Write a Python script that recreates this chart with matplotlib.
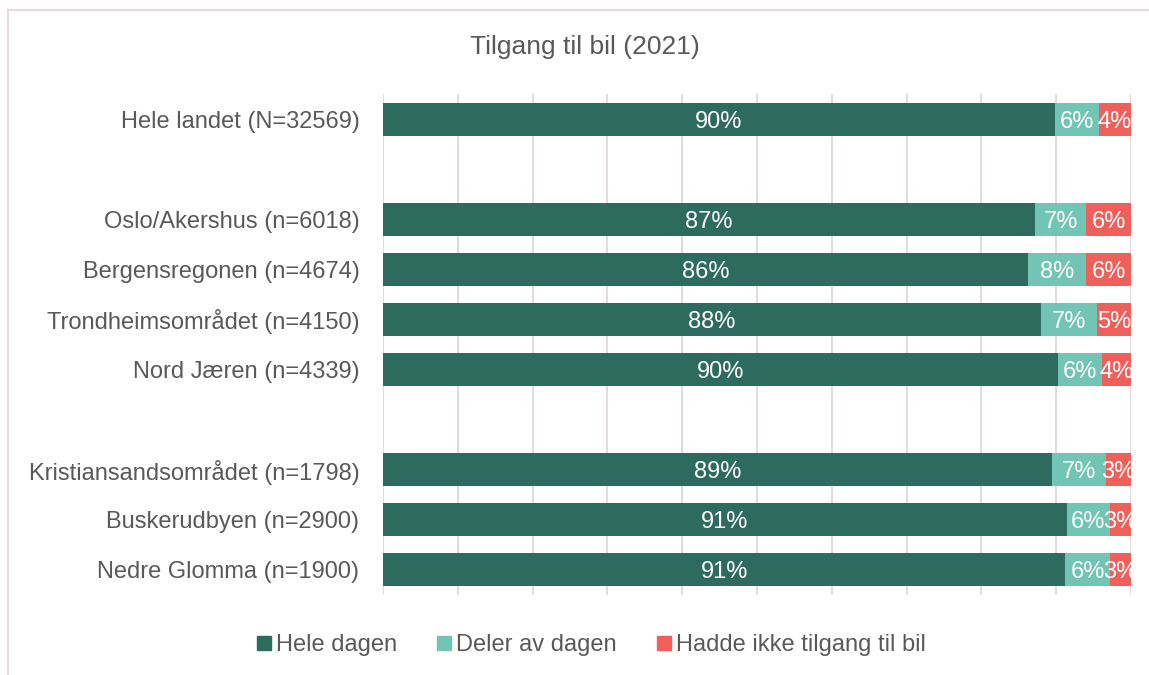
import matplotlib.pyplot as plt
from matplotlib.lines import Line2D

plt.rcParams['font.family'] = ['Liberation Sans', 'DejaVu Sans']

# rows from top; empty string = gap row
categories = ["Hele landet (N=32569)", "",
              "Oslo/Akershus (n=6018)", "Bergensregonen (n=4674)",
              "Trondheimsområdet (n=4150)", "Nord Jæren (n=4339)", "",
              "Kristiansandsområdet (n=1798)", "Buskerudbyen (n=2900)",
              "Nedre Glomma (n=1900)"]
hele = [89.8, 0, 87.2, 86.2, 88.0, 90.2, 0, 89.4, 91.4, 91.2]
deler = [5.9, 0, 6.8, 7.8, 7.4, 5.9, 0, 7.3, 5.8, 6.0]
ikke = [4.3, 0, 6.0, 6.0, 4.6, 3.9, 0, 3.3, 2.8, 2.8]
series_names = ["Hele dagen", "Deler av dagen", "Hadde ikke tilgang til bil"]
colors = ["#2e6b5f", "#72c4b4", "#f0605a"]

txt = "#595959"
grid_c = "#e2d3da"

fig = plt.figure(figsize=(11.49, 6.75), dpi=100)
ax = fig.add_axes([383/1149, 1-595/675, (1131-383)/1149, (595-94)/675])

ypos = list(range(len(categories)))
left = [0]*len(categories)
for vals, col in zip([hele, deler, ikke], colors):
    for i, v in enumerate(vals):
        if v == 0:
            continue
        ax.barh(ypos[i], v, left=left[i], height=0.66, color=col, zorder=3)
        ax.text(left[i] + v/2, ypos[i], "%d%%" % round(v), ha='center', va='center_baseline',
                color='white', fontsize=17, zorder=4, clip_on=True)
        left[i] += v

ax.set_xlim(0, 100)
ax.set_ylim(len(categories)-0.5, -0.5)
ax.set_xticks(range(0, 101, 10))
ax.tick_params(axis='x', length=0, labelbottom=False)
ax.grid(axis='x', color=grid_c, linewidth=1.2, zorder=0)
ax.set_yticks(ypos)
ax.set_yticklabels(categories, fontsize=17, color=txt, va='center_baseline')
ax.tick_params(axis='y', length=0, pad=17)
for s in ax.spines.values():
    s.set_visible(False)

fig.text(585/1149, 1-47/675, "Tilgang til bil (2021)", ha='center', va='center',
         fontsize=19, color=txt)

handles = [Line2D([], [], marker='s', linestyle='none', markersize=10, color=c) for c in colors]
fig.legend(handles, series_names, loc='center', bbox_to_anchor=(590/1149, 1-645/675),
           ncol=3, frameon=False, fontsize=17, labelcolor=txt, handletextpad=0.1,
           columnspacing=1.6, handlelength=0.8)

# outer border (top and left visible)
fig.add_artist(Line2D([8/1149, 1], [1-10/675, 1-10/675], color="#ead9de", linewidth=1.5))
fig.add_artist(Line2D([8/1149, 8/1149], [0, 1-10/675], color="#ead9de", linewidth=1.5))

fig.savefig("out.png", dpi=100)
